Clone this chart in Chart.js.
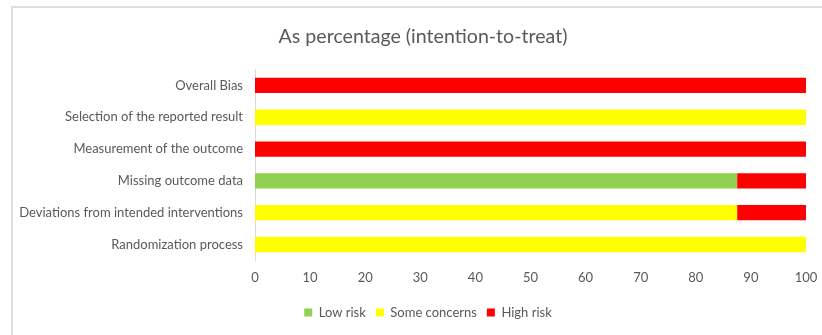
<!DOCTYPE html>
<html>
<head>
<meta charset="utf-8">
<script src="https://cdn.jsdelivr.net/npm/chart.js@4"></script>
<style>
  html, body { margin: 0; padding: 0; background: #fff; overflow: hidden; }
  #frame { position: absolute; left: 11px; top: 6px; width: 900px; height: 400px; border: 2px solid #e0e0e0; box-sizing: border-box; }
  #wrap { position: absolute; left: 0; top: 0; width: 822px; height: 335px; }
</style>
</head>
<body>
<div id="frame"></div>
<div id="wrap"><canvas id="c" width="822" height="335"></canvas></div>
<script>
// Risk-of-bias domains, top to bottom
const domains = [
  "Overall Bias",
  "Selection of the reported result",
  "Measurement of the outcome",
  "Missing outcome data",
  "Deviations from intended interventions",
  "Randomization process"
];
// Share of studies per judgement (%)
const lowRisk      = [0, 0, 0, 87.5, 0, 0];
const someConcerns = [0, 100, 0, 0, 87.5, 100];
const highRisk     = [100, 0, 100, 12.5, 12.5, 0];
const xTicks = [0, 10, 20, 30, 40, 50, 60, 70, 80, 90, 100];

const FONT = "Lato, 'Open Sans', sans-serif";
const GREY = "#595959";

// Nudge title and legend to the right so they sit centred over the frame's content
const shiftBlocks = {
  id: "shiftBlocks",
  afterLayout(chart) {
    const t = chart.titleBlock, l = chart.legend;
    if (t) { t.left += 20; t.right += 20; }
    if (l) { l.left += 25; l.right += 25; }
  }
};

new Chart(document.getElementById("c"), {
  type: "bar",
  data: {
    labels: domains,
    datasets: [
      { label: "Low risk", data: lowRisk, backgroundColor: "#92D050" },
      { label: "Some concerns", data: someConcerns, backgroundColor: "#FFFF00" },
      { label: "High risk", data: highRisk, backgroundColor: "#FF0000" }
    ]
  },
  plugins: [shiftBlocks],
  options: {
    indexAxis: "y",
    responsive: false,
    animation: false,
    layout: { padding: { left: 0, right: 16, top: 0, bottom: 6 } },
    datasets: { bar: { categoryPercentage: 1, barPercentage: 0.48, borderWidth: 0 } },
    scales: {
      x: {
        stacked: true,
        min: 0, max: 100,
        afterBuildTicks: (s) => { s.ticks = xTicks.map(v => ({ value: v })); },
        afterFit: (s) => { s.paddingLeft = 0; s.paddingRight = 0; },
        grid: { display: false, drawTicks: false },
        border: { display: false },
        ticks: { color: GREY, font: { family: FONT, size: 13 }, padding: 10, maxRotation: 0 }
      },
      y: {
        stacked: true,
        afterFit: (s) => { s.width = 255; },
        grid: { display: false, drawTicks: false },
        border: { display: true, color: "#d9d9d9" },
        ticks: { color: GREY, font: { family: FONT, size: 13 }, padding: 12 }
      }
    },
    plugins: {
      title: {
        display: true,
        text: "As percentage (intention-to-treat)",
        color: GREY,
        font: { family: FONT, size: 19.6, weight: "normal" },
        padding: { top: 25, bottom: 21 }
      },
      legend: {
        position: "bottom",
        labels: { color: GREY, font: { family: FONT, size: 13 }, boxWidth: 8, boxHeight: 8, padding: 10 }
      },
      tooltip: { enabled: false }
    }
  }
});
</script>
</body>
</html>
